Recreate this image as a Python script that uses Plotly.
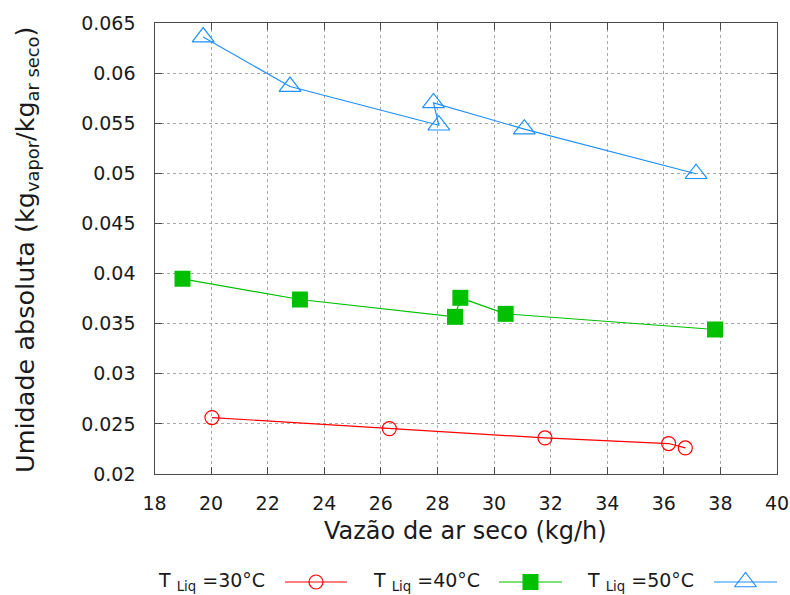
import plotly.graph_objects as go

# Vazão de ar seco (kg/h) e umidade absoluta (kg vapor / kg ar seco)
x_30 = [20.03, 26.30, 31.80, 36.17, 36.76]
y_30 = [0.02563, 0.02453, 0.0236, 0.02304, 0.0226]

x_40 = [18.99, 23.14, 28.62, 28.81, 30.41, 37.81]
y_40 = [0.03947, 0.03741, 0.03568, 0.03758, 0.03598, 0.03442]

x_50 = [19.72, 22.79, 28.05, 27.86, 31.07, 37.14]
y_50 = [0.06360, 0.05866, 0.05480, 0.05703, 0.05441, 0.04996]

legend_labels = ["T <sub>Liq</sub> =30°C", "T <sub>Liq</sub> =40°C", "T <sub>Liq</sub> =50°C"]

x_ticks = list(range(18, 41, 2))
y_tickvals = [0.02, 0.025, 0.03, 0.035, 0.04, 0.045, 0.05, 0.055, 0.06, 0.065]
y_ticktext = ["0.02", "0.025", "0.03", "0.035", "0.04", "0.045", "0.05", "0.055", "0.06", "0.065"]

x_title = "Vazão de ar seco (kg/h)"
y_title = "Umidade absoluta (kg<sub>vapor</sub>/kg<sub>ar seco</sub>)"

RED = "#ff0000"
GREEN = "#00c000"
BLUE = "#1e90ff"
FONT = "DejaVu Sans"
TXT = "#1a1a1a"

W, H = 790, 595
plot_left, plot_right, plot_top, plot_bottom = 154.5, 777, 23, 474

series = [
    (x_30, y_30, RED, dict(symbol="circle-open", size=14, color=RED, line=dict(width=1.2, color=RED))),
    (x_40, y_40, GREEN, dict(symbol="square", size=16, color=GREEN, line=dict(width=0))),
    (x_50, y_50, BLUE, dict(symbol="triangle-up-open", size=19, color=BLUE, line=dict(width=1.2, color=BLUE))),
]

fig = go.Figure()
for xs, ys, col, mk in series:
    fig.add_trace(go.Scatter(x=xs, y=ys, mode="lines+markers",
                             line=dict(color=col, width=1.2), marker=mk,
                             showlegend=False, xaxis="x", yaxis="y"))

# Legend row on a full-figure pixel axis: label text first, then line sample with marker
leg_y = 582
leg_text_right = [267, 482, 696]
leg_line = [(285, 347), (499, 562), (714, 777)]
for (x0, x1), (xs, ys, col, mk), lbl, tr in zip(leg_line, series, legend_labels, leg_text_right):
    fig.add_trace(go.Scatter(x=[x0, x1], y=[leg_y, leg_y], mode="lines",
                             line=dict(color=col, width=1.2), showlegend=False,
                             xaxis="x2", yaxis="y2", hoverinfo="skip"))
    fig.add_trace(go.Scatter(x=[(x0 + x1) / 2], y=[leg_y], mode="markers",
                             marker=mk, showlegend=False,
                             xaxis="x2", yaxis="y2", hoverinfo="skip"))
    fig.add_annotation(x=tr, y=leg_y - 1, xref="x2", yref="y2", text=lbl,
                       showarrow=False, xanchor="right", yanchor="middle",
                       font=dict(family=FONT, size=19, color=TXT))

# Axis titles
fig.add_annotation(x=(plot_left + plot_right) / 2, y=531, xref="x2", yref="y2",
                   text=x_title, showarrow=False, xanchor="center", yanchor="middle",
                   font=dict(family=FONT, size=24, color=TXT))
fig.add_annotation(x=26, y=250, xref="x2", yref="y2",
                   text=y_title, textangle=-90, showarrow=False,
                   xanchor="center", yanchor="middle",
                   font=dict(family=FONT, size=25.5, color=TXT))

axis_common = dict(
    showline=True, linecolor="#4a4a4a", linewidth=1.3, mirror="ticks",
    ticks="inside", ticklen=7, tickcolor="#4a4a4a", tickwidth=1.2,
    showgrid=True, gridcolor="#a8a8a8", griddash="dot", gridwidth=1,
    zeroline=False, tickfont=dict(family=FONT, size=19, color=TXT),
    automargin=False,
)

fig.update_layout(
    width=W, height=H,
    margin=dict(l=0, r=0, t=0, b=0),
    paper_bgcolor="white", plot_bgcolor="rgba(0,0,0,0)",
    xaxis=dict(domain=[plot_left / W, plot_right / W], range=[18, 40],
               tickvals=x_ticks, ticktext=[str(v) for v in x_ticks],
               ticklabelstandoff=12, **axis_common),
    yaxis=dict(domain=[(H - plot_bottom) / H, (H - plot_top) / H], range=[0.02, 0.065],
               tickvals=y_tickvals, ticktext=y_ticktext,
               ticklabelstandoff=14, **axis_common),
    xaxis2=dict(domain=[0, 1], range=[0, W], visible=False, anchor="y2", fixedrange=True),
    yaxis2=dict(domain=[0, 1], range=[H, 0], visible=False, anchor="x2", fixedrange=True),
)

fig.write_html("out.html")
